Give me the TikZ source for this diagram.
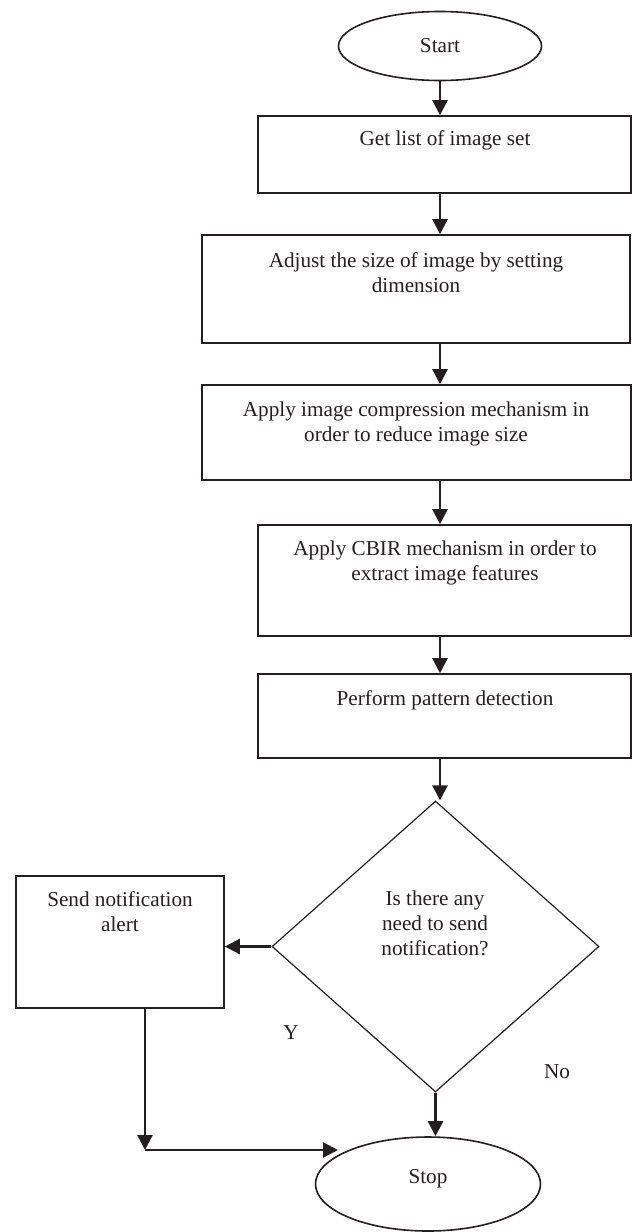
\documentclass[tikz,border=0pt]{standalone}
\usepackage{fontspec}
\setmainfont{Liberation Serif}
\usetikzlibrary{shapes.geometric,arrows.meta}
\definecolor{ink}{RGB}{35,31,32}
\begin{document}
\begin{tikzpicture}[x=0.5pt,y=-0.5pt,
  every node/.style={font=\fontsize{10.6}{12.5}\selectfont, text=ink},
  boxnode/.style={draw=ink, line width=0.8pt, rectangle, inner sep=0pt},
  termnode/.style={draw=ink, line width=0.8pt, ellipse, inner sep=0pt},
  decnode/.style={draw=ink, line width=0.6pt, diamond, inner sep=0pt},
  txt/.style={anchor=north, inner sep=0pt, align=center},
  flow/.style={draw=ink, line width=1.2pt, -{Triangle[length=7.5pt,width=7.5pt]}},
]
\useasboundingbox (0,0) rectangle (632,1232);

% shapes
\node[termnode, minimum width=101.5pt, minimum height=34.5pt] (start) at (440,46) {Start};
\node[boxnode, minimum width=186.5pt, minimum height=38.5pt] (b1) at (444.5,154.5) {};
\node[boxnode, minimum width=214pt, minimum height=54pt] (b2) at (416,289) {};
\node[boxnode, minimum width=214.5pt, minimum height=47.5pt] (b3) at (416.5,432.5) {};
\node[boxnode, minimum width=186.5pt, minimum height=55.5pt] (b4) at (444.5,580.5) {};
\node[boxnode, minimum width=186.5pt, minimum height=42pt] (b5) at (444.5,716) {};
\node[decnode, minimum width=163.5pt, minimum height=145.5pt] (dec) at (435.5,946.5) {};
\node[boxnode, minimum width=104pt, minimum height=66pt] (send) at (120,942) {};
\node[termnode, minimum width=112.5pt, minimum height=47pt] (stop) at (428,1184) {};

% texts
\node[txt] (t1) at (445,130.5) {Get list of image set};
\node[txt] (t2) at (416,252.5) {Adjust the size of image by setting\\dimension};
\node[txt] (t3) at (416,401.5) {Apply image compression mechanism in\\order to reduce image size};
\node[txt] (t4) at (445,540.5) {Apply CBIR mechanism in order to\\extract image features};
\node[txt] (t5) at (445,690.5) {Perform pattern detection};
\node[txt] (t6) at (435,890.5) {Is there any\\need to send\\notification?};
\node[txt] (t7) at (120,891.5) {Send notification\\alert};
\node[anchor=base, inner sep=0pt] (t8) at (428,1183) {Stop};
\node (ylab) at (291,1033) {Y};
\node (nolab) at (557,1072) {No};

% connectors
\draw[flow] (start.south) -- (start.south |- b1.north);
\draw[flow] (start.south |- b1.south) -- (start.south |- b2.north);
\draw[flow] (start.south |- b2.south) -- (start.south |- b3.north);
\draw[flow] (start.south |- b3.south) -- (start.south |- b4.north);
\draw[flow] (start.south |- b4.south) -- (start.south |- b5.north);
\draw[flow] (start.south |- b5.south) -- (start.south |- dec.north);
\draw[flow] (dec.west) -- (dec.west -| send.east);
\draw[flow] (dec.south) -- (dec.south |- stop.north);
\coordinate (corner) at (145,1150);
\coordinate (ytip) at (338,1150);
\draw[flow] (send.south -| corner) -- (corner);
\draw[flow] (corner) -- (ytip);
\end{tikzpicture}
\end{document}
